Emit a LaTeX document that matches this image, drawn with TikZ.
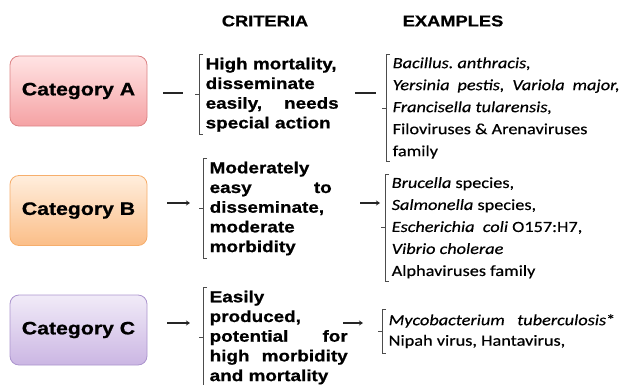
\documentclass[tikz,border=0pt]{standalone}
\usepackage{fontspec}
\setmainfont{Carlito}
\newfontfamily\critfont[FakeStretch=1.18, BoldFeatures={FakeBold=0.8}]{Liberation Sans}
\newfontfamily\exfont[FakeStretch=1.18, FakeBold=0.4]{Carlito}
\usepackage{tikz}
\usetikzlibrary{arrows.meta}
\definecolor{catAtop}{HTML}{FFE4E4}
\definecolor{catAbot}{HTML}{F5A2A4}
\definecolor{catAline}{HTML}{DC8486}
\definecolor{catBtop}{HTML}{FFEEDD}
\definecolor{catBbot}{HTML}{FBBE88}
\definecolor{catBline}{HTML}{F6AE6C}
\definecolor{catCtop}{HTML}{F1EBF8}
\definecolor{catCbot}{HTML}{CBB6E3}
\definecolor{catCline}{HTML}{AC95CE}
\newcommand{\spreadline}[2]{\makebox[#1][s]{#2}}

\begin{document}
\begin{tikzpicture}[x=1pt, y=-1pt,
    catbox/.style={rectangle, rounded corners=9pt, minimum width=137pt, minimum height=70pt, line width=0.8pt, font=\critfont\fontsize{18}{20}\selectfont\bfseries},
    crit/.style={anchor=north west, align=left, inner xsep=6.5pt, inner ysep=3pt, font=\critfont\fontsize{16}{19.7}\selectfont\bfseries},
    expl/.style={anchor=north west, align=left, inner xsep=6.5pt, inner ysep=3pt, font=\exfont\fontsize{15.5}{22}\selectfont},
    head/.style={font=\critfont\fontsize{15.5}{18}\selectfont\bfseries},
    link/.style={line width=2.6pt, draw=black!85},
    flow/.style={link, -{Stealth[length=4pt,width=5pt]}},
    brk/.style={draw=black!70, line width=0.9pt}
  ]
  \useasboundingbox (0,0) rectangle (623,385);

  % headings
  \node[head] (hCrit) at (265,21) {CRITERIA};
  \node[head] (hEx) at (453,21) {EXAMPLES};

  % categories
  \node[catbox, top color=catAtop, bottom color=catAbot, draw=catAline] (catA) at (78.5,91) {Category A};
  \node[catbox, top color=catBtop, bottom color=catBbot, draw=catBline] (catB) at (78.5,210.5) {Category B};
  \node[catbox, top color=catCtop, bottom color=catCbot, draw=catCline] (catC) at (78.5,330) {Category C};

  % criteria
  \node[crit, text width=133pt] (crA) at (199,54.5) {High mortality,\\ disseminate\\ \spreadline{133pt}{easily,\hfill needs}\\ special action};
  \node[crit, text width=122pt] (crB) at (203,158.5) {Moderately\\ \spreadline{122pt}{easy\hfill to}\\ disseminate,\\ moderate\\ morbidity};
  \node[crit, text width=138pt] (crC) at (203,287.5) {Easily\\ produced,\\ \spreadline{138pt}{potential\hfill for}\\ \spreadline{138pt}{high\hfill morbidity}\\ and mortality};

  % examples
  \node[expl] (exA) at (386,54.2) {\textit{Bacillus.\ anthracis,}\\ \spreadline{227pt}{\textit{Yersinia\hfill pestis,\hfill Variola\hfill major,}}\\ \textit{Francisella tularensis,}\\ Filoviruses \& Arenaviruses\\ family};
  \node[expl] (exB) at (385,174) {\textit{Brucella} species,\\ \textit{Salmonella} species,\\ \textit{Escherichia\ \ coli} O157:H7,\\ \textit{Vibrio cholerae}\\ Alphaviruses family};
  \node[expl, inner ysep=5pt, font=\exfont\fontsize{15.5}{20.5}\selectfont] (exC) at (382,309) {\textit{Mycobacterium\ \ \ tuberculosis}*\\ Nipah virus, Hantavirus,};

  % brackets
  \foreach \n in {crA,crB,crC,exA,exB,exC}
    \draw[brk] ([xshift=4pt]\n.north west) -- (\n.north west) -- (\n.south west) -- ([xshift=4pt]\n.south west)
      (\n.west) -- ([xshift=-4pt]\n.west);

  % connectors
  \coordinate (rowA) at (0,93);
  \coordinate (rowB) at (0,203);
  \coordinate (rowC) at (0,323);
  \draw[link, shorten <=16pt, shorten >=16pt] (catA.east |- rowA) -- (crA.west |- rowA);
  \draw[link, shorten <=10pt, shorten >=10pt] (crA.east |- rowA) -- (exA.west |- rowA);
  \draw[flow, shorten <=20pt, shorten >=13pt] (catB.east |- rowB) -- (crB.west |- rowB);
  \draw[flow, shorten <=22pt, shorten >=5pt] (crB.east |- rowB) -- (exB.west |- rowB);
  \draw[flow, shorten <=20pt, shorten >=13pt] (catC.east |- rowC) -- (crC.west |- rowC);
  \draw[flow, shorten <=-11pt, shorten >=19pt] (crC.east |- rowC) -- (exC.west |- rowC);
\end{tikzpicture}
\end{document}
